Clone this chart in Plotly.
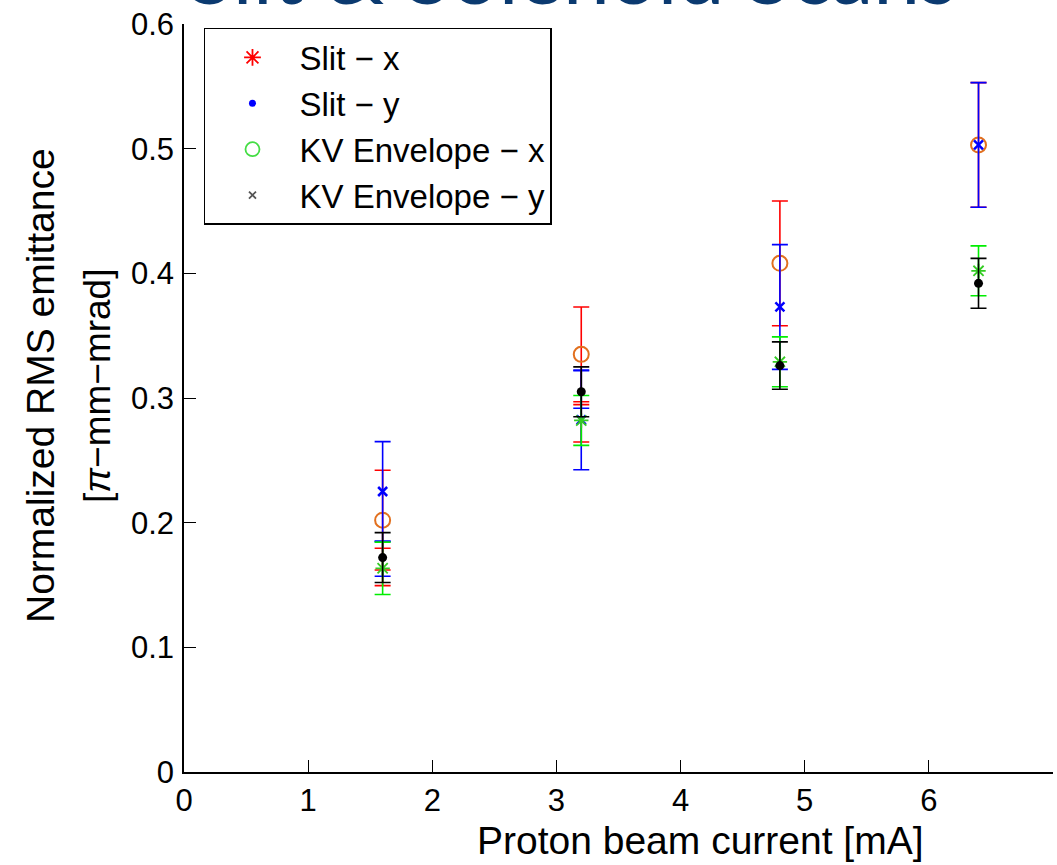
import plotly.graph_objects as go

# Beam currents [mA] at which emittance was measured
current_ma = [1.6, 3.2, 4.8, 6.4]

# KV envelope fit, x plane (open circles, red bars)
kvx_emit = [0.202, 0.335, 0.408, 0.503]
kvx_err = [0.040, 0.038, 0.050, 0.050]

# KV envelope fit, y plane (crosses, blue bars)
kvy_emit = [0.225, 0.2825, 0.373, 0.503]
kvy_err = [0.040, 0.040, 0.050, 0.050]

# Slit scan, x plane (asterisks, green bars)
slitx_emit = [0.1634, 0.282, 0.329, 0.402]
slitx_err = [0.021, 0.020, 0.020, 0.020]

# Slit scan, y plane (dots, black bars)
slity_emit = [0.172, 0.305, 0.326, 0.392]
slity_err = [0.020, 0.020, 0.019, 0.020]

# Repeat scans taken at the two lowest currents (bars only)
repeat_current_ma = [1.6, 3.2]
repeat_x_emit = [0.1645, 0.2797]
repeat_x_err = [0.015, 0.015]
repeat_y_emit = [0.171, 0.3068]
repeat_y_err = [0.014, 0.015]

legend_names = ["Slit \u2212 x", "Slit \u2212 y", "KV Envelope \u2212 x", "KV Envelope \u2212 y"]

x_ticks = [0, 1, 2, 3, 4, 5, 6]
y_ticks = [0, 0.1, 0.2, 0.3, 0.4, 0.5, 0.6]

FONT = "Arial, Liberation Sans, sans-serif"
CAP = 8
BAR_W = 1.6

fig = go.Figure()


def bars(x, y, err, color, marker=None):
    m = marker if marker is not None else dict(size=1, opacity=0)
    fig.add_trace(go.Scatter(
        x=x, y=y, mode="markers", marker=m, showlegend=False,
        hoverinfo="skip",
        error_y=dict(type="data", array=err, visible=True, color=color,
                     thickness=BAR_W, width=CAP),
    ))


# repeat scans (bars only)
bars(repeat_current_ma, repeat_x_emit, repeat_x_err, "#ff0000")
bars(repeat_current_ma, repeat_y_emit, repeat_y_err, "#0000ff")

# KV envelope x
bars(current_ma, kvx_emit, kvx_err, "#ff0000",
     dict(symbol="circle-open", size=15, color="#e2701e", line=dict(width=2, color="#e2701e")))
# KV envelope y
bars(current_ma, kvy_emit, kvy_err, "#0000ff",
     dict(symbol="x-thin-open", size=9, color="#0000ff", line=dict(width=2.5, color="#0000ff")))
# Slit x
bars(current_ma, slitx_emit, slitx_err, "#00ee00",
     dict(symbol="asterisk-open", size=12, color="#33cc22", line=dict(width=1.8, color="#33cc22")))
# Slit y
bars(current_ma, slity_emit, slity_err, "#000000",
     dict(symbol="circle", size=9, color="#000000"))

# legend entries
legend_markers = [
    dict(symbol="asterisk-open", size=14, color="#ff0000", line=dict(width=1.8, color="#ff0000")),
    dict(symbol="circle", size=7, color="#0000ff"),
    dict(symbol="circle-open", size=14, color="#44dd44", line=dict(width=1.8, color="#44dd44")),
    dict(symbol="x-thin-open", size=7, color="#555555", line=dict(width=1.8, color="#555555")),
]
for i, (name, mk) in enumerate(zip(legend_names, legend_markers)):
    fig.add_trace(go.Scatter(x=[None], y=[None], mode="markers", name=name,
                             marker=mk, legendgroup=f"g{i}", showlegend=True))

axis_common = dict(
    showline=True, linecolor="black", linewidth=1.5,
    ticks="inside", ticklen=12, tickwidth=1.3, tickcolor="black",
    showgrid=False, zeroline=False,
    tickfont=dict(family=FONT, size=31, color="black"),
)

fig.update_layout(
    width=1057, height=865,
    margin=dict(l=184, r=4, t=24, b=93),
    paper_bgcolor="white", plot_bgcolor="white",
    showlegend=True,
    legend=dict(
        x=0.023, y=0.9947, xanchor="left", yanchor="top",
        bordercolor="black", borderwidth=1.5, bgcolor="white",
        font=dict(family=FONT, size=33, color="black"),
        tracegroupgap=0, itemwidth=84,
    ),
    xaxis=dict(range=[0, 7], tickvals=x_ticks, ticktext=[str(t) for t in x_ticks], **axis_common),
    yaxis=dict(range=[0, 0.6], tickvals=y_ticks, ticktext=["0" if t == 0 else f"{t:.1f}" for t in y_ticks],
               ticklabelstandoff=2, **axis_common),
)

# axis titles
fig.add_annotation(text="Proton beam current [mA]", xref="x", yref="paper",
                   x=4.16, y=-0.091, showarrow=False, xanchor="center", yanchor="middle",
                   font=dict(family=FONT, size=39, color="black"))
fig.add_annotation(text="Normalized RMS emittance", xref="paper", yref="paper",
                   x=-0.1657, y=0.516, showarrow=False, textangle=-90,
                   xanchor="center", yanchor="middle",
                   font=dict(family=FONT, size=39, color="black"))
fig.add_annotation(text="[<i>\u03c0</i>\u2212mm\u2212mrad]", xref="paper", yref="paper",
                   x=-0.1001, y=0.516, showarrow=False, textangle=-90,
                   xanchor="center", yanchor="middle",
                   font=dict(family=FONT, size=37, color="black"))

# slide heading, running off the top edge
fig.add_annotation(text="Slit & Solenoid Scans", xref="paper", yref="paper",
                   x=(572 - 184) / 869, y=1 + (24 + 28) / 748, showarrow=False,
                   xanchor="center", yanchor="middle",
                   font=dict(family="Lato, Open Sans, sans-serif", size=84, color="#0b3a70"))

fig.write_html("out.html")
